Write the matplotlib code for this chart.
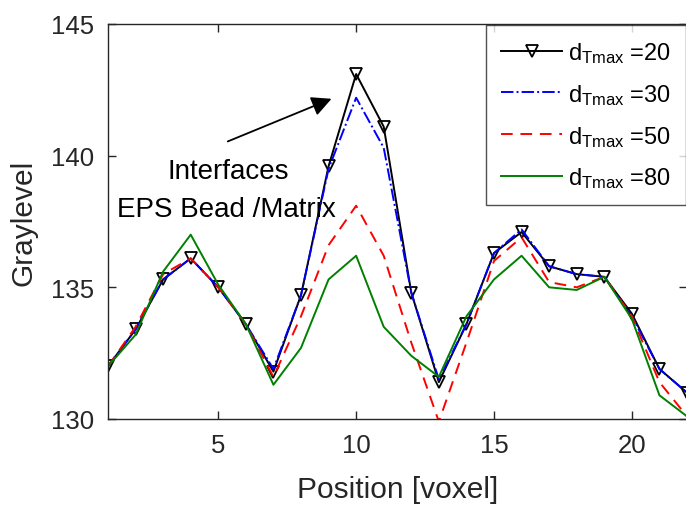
import numpy as np
import matplotlib
matplotlib.use('Agg')
import matplotlib.pyplot as plt

plt.rcParams['font.family'] = ['Liberation Sans', 'DejaVu Sans']
plt.rcParams['mathtext.fontset'] = 'custom'
plt.rcParams['mathtext.rm'] = 'Liberation Sans'
plt.rcParams['mathtext.it'] = 'Liberation Sans:italic'

# gray level profiles across position (voxel)
position = np.arange(1, 23)
d20 = [132.0, 133.4, 135.3, 136.1, 135.0, 133.6, 131.8, 134.7, 139.6, 143.1, 141.1,
       134.8, 131.4, 133.6, 136.3, 137.1, 135.8, 135.5, 135.4, 134.0, 131.9, 131.0]
d30 = [132.0, 133.4, 135.3, 136.1, 135.0, 133.6, 131.9, 134.7, 139.5, 142.2, 140.3,
       134.8, 131.5, 133.6, 136.3, 137.2, 135.8, 135.5, 135.4, 133.9, 131.9, 131.0]
d50 = [132.0, 133.5, 135.5, 136.1, 135.0, 133.6, 131.6, 133.9, 136.6, 138.1, 136.2,
       132.9, 129.9, 132.9, 136.0, 136.9, 135.2, 135.0, 135.4, 133.9, 131.4, 130.1]
d80 = [132.0, 133.2, 135.6, 137.0, 135.1, 133.6, 131.3, 132.7, 135.3, 136.2, 133.5,
       132.4, 131.6, 133.9, 135.3, 136.2, 135.0, 134.9, 135.4, 133.8, 130.9, 130.1]
labels = [r'd$_{\mathrm{Tmax}}$ =20', r'd$_{\mathrm{Tmax}}$ =30',
          r'd$_{\mathrm{Tmax}}$ =50', r'd$_{\mathrm{Tmax}}$ =80']

fig = plt.figure(figsize=(6.86, 5.06), dpi=100)
ax = fig.add_axes([108/686, 1-420/506, 579/686, 395/506])

ax.plot(position, d20, color='k', lw=1.4, marker='v', mfc='none', mec='k', ms=9, mew=1.3, label=labels[0])
ax.plot(position, d30, color='b', lw=1.4, ls='-.', label=labels[1])
ax.plot(position, d50, color='r', lw=1.4, ls=(0, (6, 4)), label=labels[2])
ax.plot(position, d80, color=(0, 0.5, 0), lw=1.4, label=labels[3])

ax.set_xlim(1, 22)
ax.set_ylim(130, 145)
ax.set_xticks([5, 10, 15, 20])
ax.set_yticks([130, 135, 140, 145])

gray = (0.15, 0.15, 0.15)
for s in ax.spines.values():
    s.set_color(gray)
    s.set_linewidth(1.0)
ax.tick_params(direction='in', length=6, width=1.0, colors=gray, labelsize=18.5,
               top=True, right=True, pad=10)
ax.set_xlabel('Position [voxel]', fontsize=21.5, color=gray, labelpad=13)
ax.set_ylabel('Graylevel', fontsize=21.5, color=gray, labelpad=10)

ax.annotate('', xy=(9.2, 142.2), xytext=(5.25, 140.5),
            arrowprops=dict(arrowstyle='-|>', color='k', lw=1.3, mutation_scale=30))
ax.text(5.36, 139.42, 'Interfaces', fontsize=20, ha='center', va='center')
ax.text(5.3, 137.97, 'EPS Bead /Matrix', fontsize=20, ha='center', va='center')

leg = ax.legend(loc='upper right', fontsize=17, frameon=True, fancybox=False,
                edgecolor=gray, handlelength=2.6, borderaxespad=0.05,
                labelspacing=0.72, borderpad=0.62, handletextpad=0.25)
leg.get_frame().set_linewidth(1.0)

fig.savefig('out.png', dpi=100)
